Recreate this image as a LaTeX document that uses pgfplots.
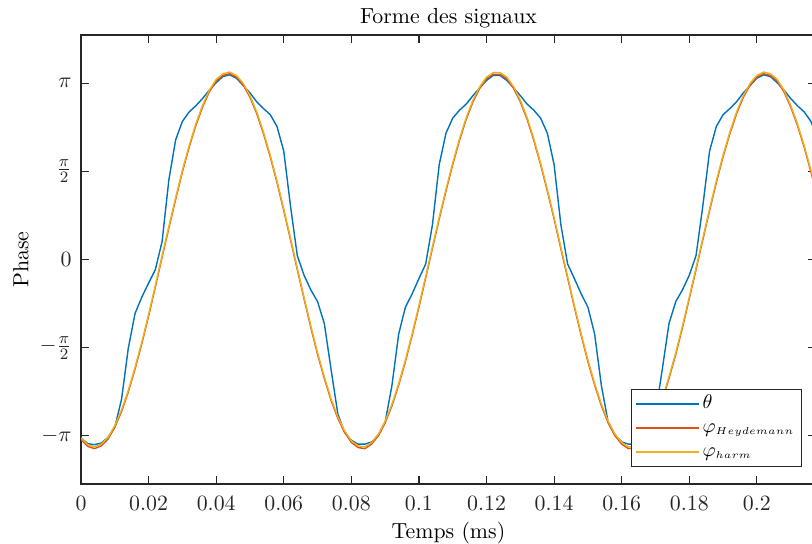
\documentclass[border=0pt,11pt]{standalone}
\usepackage{pgfplots}
\usepackage{pgfplotstable}
\pgfplotsset{compat=1.18}
\definecolor{mblue}{HTML}{0072BD}
\definecolor{morange}{HTML}{D95319}
\definecolor{myellow}{HTML}{EDB120}
\definecolor{axgray}{HTML}{262626}
\pgfplotstableread{
t theta heyd harm
0.000 -3.18 -3.21 -3.18
0.002 -3.28 -3.33 -3.30
0.004 -3.30 -3.37 -3.34
0.006 -3.27 -3.32 -3.29
0.008 -3.17 -3.20 -3.17
0.010 -2.99 -2.99 -2.96
0.012 -2.49 -2.71 -2.68
0.014 -1.58 -2.36 -2.33
0.016 -0.96 -1.95 -1.92
0.018 -0.67 -1.50 -1.47
0.020 -0.42 -1.01 -0.98
0.022 -0.18 -0.49 -0.46
0.024 0.32 0.04 0.07
0.026 1.42 0.56 0.59
0.028 2.13 1.07 1.10
0.030 2.46 1.56 1.59
0.032 2.63 2.00 2.03
0.034 2.74 2.39 2.42
0.036 2.87 2.72 2.75
0.038 3.02 2.99 3.02
0.040 3.15 3.18 3.21
0.042 3.26 3.28 3.31
0.044 3.29 3.31 3.34
0.046 3.23 3.25 3.28
0.048 3.10 3.11 3.14
0.050 2.97 2.89 2.92
0.052 2.81 2.60 2.63
0.054 2.69 2.24 2.27
0.056 2.58 1.83 1.86
0.058 2.37 1.37 1.40
0.060 1.93 0.87 0.90
0.062 0.95 0.35 0.38
0.064 0.07 -0.18 -0.15
0.066 -0.28 -0.70 -0.67
0.068 -0.54 -1.21 -1.18
0.070 -0.75 -1.69 -1.66
0.072 -1.14 -2.12 -2.09
0.074 -1.96 -2.51 -2.48
0.076 -2.75 -2.83 -2.80
0.078 -3.08 -3.08 -3.05
0.080 -3.22 -3.26 -3.23
0.082 -3.29 -3.35 -3.32
0.084 -3.29 -3.37 -3.34
0.086 -3.25 -3.29 -3.26
0.088 -3.13 -3.14 -3.11
0.090 -2.90 -2.91 -2.88
0.092 -2.25 -2.61 -2.58
0.094 -1.33 -2.24 -2.21
0.096 -0.85 -1.82 -1.79
0.098 -0.61 -1.35 -1.32
0.100 -0.34 -0.85 -0.82
0.102 -0.08 -0.33 -0.30
0.104 0.62 0.20 0.23
0.106 1.69 0.72 0.75
0.108 2.25 1.22 1.25
0.110 2.52 1.69 1.72
0.112 2.66 2.12 2.15
0.114 2.77 2.50 2.53
0.116 2.92 2.81 2.84
0.118 3.06 3.05 3.08
0.120 3.19 3.22 3.25
0.122 3.28 3.30 3.33
0.124 3.28 3.30 3.33
0.126 3.19 3.22 3.25
0.128 3.06 3.05 3.08
0.130 2.92 2.81 2.84
0.132 2.77 2.50 2.53
0.134 2.66 2.12 2.15
0.136 2.52 1.69 1.72
0.138 2.25 1.22 1.25
0.140 1.69 0.72 0.75
0.142 0.62 0.19 0.22
0.144 -0.08 -0.33 -0.30
0.146 -0.34 -0.85 -0.82
0.148 -0.61 -1.35 -1.32
0.150 -0.85 -1.82 -1.79
0.152 -1.33 -2.24 -2.21
0.154 -2.25 -2.61 -2.58
0.156 -2.90 -2.91 -2.88
0.158 -3.13 -3.14 -3.11
0.160 -3.25 -3.29 -3.26
0.162 -3.29 -3.37 -3.34
0.164 -3.29 -3.35 -3.32
0.166 -3.22 -3.26 -3.23
0.168 -3.08 -3.08 -3.05
0.170 -2.75 -2.83 -2.80
0.172 -1.96 -2.51 -2.48
0.174 -1.14 -2.12 -2.09
0.176 -0.75 -1.69 -1.66
0.178 -0.54 -1.21 -1.18
0.180 -0.28 -0.70 -0.67
0.182 0.07 -0.18 -0.15
0.184 0.95 0.35 0.38
0.186 1.93 0.87 0.90
0.188 2.37 1.37 1.40
0.190 2.58 1.83 1.86
0.192 2.69 2.24 2.27
0.194 2.81 2.60 2.63
0.196 2.97 2.89 2.92
0.198 3.10 3.11 3.14
0.200 3.23 3.25 3.28
0.202 3.29 3.31 3.34
0.204 3.26 3.28 3.31
0.206 3.15 3.18 3.21
0.208 3.02 2.99 3.02
0.210 2.87 2.72 2.75
0.212 2.74 2.39 2.42
0.214 2.63 2.00 2.03
0.216 2.46 1.56 1.59
0.218 2.13 1.07 1.10
}\signals
\begin{document}
\begin{tikzpicture}
\begin{axis}[
  scale only axis,
  width=367.5bp, height=224.5bp,
  xmin=0, xmax=0.2175, ymin=-4, ymax=4,
  xtick={0,0.02,0.04,0.06,0.08,0.1,0.12,0.14,0.16,0.18,0.2},
  xticklabels={$0$,$0.02$,$0.04$,$0.06$,$0.08$,$0.1$,$0.12$,$0.14$,$0.16$,$0.18$,$0.2$},
  ytick={-3.14159,-1.5708,0,1.5708,3.14159},
  yticklabels={$-\pi$,$-\frac{\pi}{2}$,$0$,$\frac{\pi}{2}$,$\pi$},
  tick align=inside,
  major tick length=4bp,
  axis line style={draw=axgray, line width=0.8bp},
  every tick/.style={draw=axgray, line width=0.6bp},
  xticklabel style={anchor=base, inner sep=0pt, yshift=-13.3bp, text=axgray},
  yticklabel style={anchor=east, inner sep=0pt, xshift=-4.5bp, text=axgray},
  title={Forme des signaux},
  every axis title/.style={at={(rel axis cs:0.5,1)}, anchor=base, yshift=5.8bp, inner sep=0pt},
  xlabel={Temps (ms)},
  every axis x label/.style={at={(rel axis cs:0.5,0)}, anchor=base, yshift=-27.2bp, inner sep=0pt},
  ylabel={Phase},
  every axis y label/.style={at={(rel axis cs:0,0.5)}, xshift=-26.3bp, rotate=90, anchor=base, inner sep=0pt},
  legend cell align=left,
  legend image code/.code={\draw[#1] (0bp,0bp) -- (31.5bp,0bp);},
  legend style={at={(rel axis cs:1,0)}, anchor=south east, xshift=-7bp, yshift=8.5bp,
    draw=axgray, line width=0.5bp, fill=white, inner xsep=2bp, inner ysep=1.25bp,
    font=\small,
    row sep=0bp, nodes={inner sep=1.5bp, text height=6.5bp, text depth=2.5bp}},
]
\addplot[draw=mblue, line width=0.7bp] table[x=t, y=theta] {\signals};
\addlegendentry{$\theta$}
\addplot[draw=morange, line width=0.7bp] table[x=t, y=heyd] {\signals};
\addlegendentry{$\varphi_{\scriptscriptstyle Heydemann}$}
\addplot[draw=myellow, line width=0.7bp] table[x=t, y=harm] {\signals};
\addlegendentry{$\varphi_{\scriptscriptstyle harm}$}
\coordinate (sw) at (rel axis cs:0,0);
\end{axis}
\pgfresetboundingbox
\path (sw) ++(-40.5bp,-30bp) rectangle ++(406bp,272bp);
\end{tikzpicture}
\end{document}
